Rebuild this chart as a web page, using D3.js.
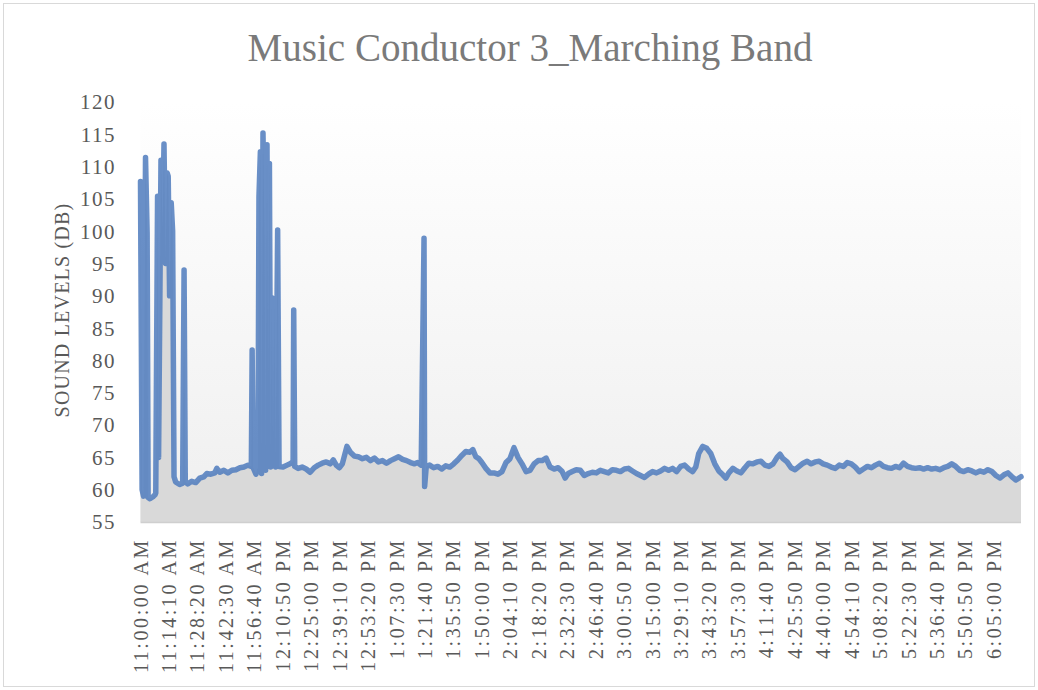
<!DOCTYPE html>
<html>
<head>
<meta charset="utf-8">
<script src="https://cdn.jsdelivr.net/npm/d3@7"></script>
<style>
  body { margin: 0; background: #fff; }
  svg { display: block; font-family: "Liberation Serif", "DejaVu Serif", serif; }
</style>
</head>
<body>
<svg></svg>
<script>
// Minutes after 11:00:00 AM for each reading
let minutes = [
  0, 0.8, 1.5, 2.5, 3.3, 3.8, 4.7, 6.2, 7.2, 7.6, 8.5, 9.0, 10.2, 11.0, 11.7, 12.5, 13.3, 13.8, 14.5, 15.3,
  16.0, 16.7, 17.5, 19.5, 21.0, 21.7, 22.3, 23.5, 25.5, 27.5, 29.5, 31.5, 33, 35, 37, 38, 39.5, 41.5, 43.5, 45.5,
  47.5, 49.5, 51.5, 53.5, 55.2, 55.6, 56.1, 57.5, 58.5, 59.0, 59.7, 60.3, 61.0, 61.7, 62.3, 63.0, 63.6, 64.2, 64.8, 65.4,
  66.0, 66.6, 67.3, 68.3, 69.0, 71, 73, 75, 76.0, 76.3, 76.8, 78.5, 80.5, 82.5, 84.5, 86.5, 88.5, 90.5, 92.5, 94.5,
  96, 97.5, 99, 100.5, 102.8, 104.5, 106.5, 108.5, 110.5, 112.5, 114.5, 116.5, 118.5, 120.5, 122.5, 124.5, 126.5, 128.5, 130.5, 132.5,
  134.5, 136.5, 138, 139.8, 141.2, 141.5, 142.3, 144, 146, 148, 150, 152, 154, 156, 158, 160, 162, 164, 165.5, 167,
  168.5, 170, 172, 174, 176, 178, 180, 182, 184, 186, 188, 190, 192, 194, 196, 198, 200, 202, 204, 206,
  208, 210, 211.5, 213, 215, 217, 219, 221, 223, 225, 227, 229, 231, 233, 235, 237, 239, 241, 243, 245,
  247, 249, 251, 253, 255, 257, 259, 261, 263, 265, 267, 269, 271, 273, 275, 276.5, 278, 280, 282, 284,
  286, 288, 290, 291.5, 293, 295, 297, 299, 301, 303, 305, 307, 309, 311, 313, 315, 317, 318.5, 320, 322,
  324, 326, 328, 330, 332, 334, 336, 338, 340, 342, 344, 346, 348, 350, 352, 354, 356, 358, 360, 362,
  364, 366, 368, 370, 372, 374, 376, 378, 380, 382, 384, 386, 388, 390, 392, 394, 396, 398, 400, 402,
  404, 406, 408, 410, 412, 414, 416, 418, 420, 422, 424, 426, 428, 430, 432, 434, 436, 438.5
];

// Sound level (dB) for each reading
let levels = [
  107.7, 60, 59, 111.4, 99.7, 58.8, 58.6, 58.9, 59.2, 59.5, 105.4, 65, 111, 100, 113.5, 95, 109, 108.5, 90, 104.4,
  100, 62, 61.2, 60.8, 61, 94, 61.2, 60.9, 61.3, 61.1, 61.8, 62, 62.5, 62.4, 62.6, 63.3, 62.7, 63.0, 62.6, 63.0,
  63.1, 63.4, 63.5, 63.8, 63.6, 81.6, 63.4, 62.4, 63.5, 105.4, 112.3, 62.5, 115.2, 100, 63, 113.4, 75, 110.5, 63.5, 89.7,
  64, 89.5, 63.5, 100.2, 63.6, 63.5, 63.8, 64.1, 64.4, 87.8, 63.6, 63.3, 63.5, 63.2, 62.7, 63.4, 63.8, 64.1, 64.3, 64.0,
  64.6, 63.8, 63.4, 64.0, 66.7, 65.8, 65.2, 65.1, 64.8, 65.0, 64.5, 64.9, 64.3, 64.5, 64.1, 64.5, 64.8, 65.1, 64.7, 64.5,
  64.2, 64.0, 64.2, 63.8, 98.9, 60.5, 63.6, 63.8, 63.4, 63.6, 63.2, 63.7, 63.5, 64.0, 64.6, 65.3, 65.9, 65.8, 66.2, 65.1,
  64.8, 64.2, 63.3, 62.6, 62.6, 62.4, 62.8, 64.2, 64.8, 66.5, 65.0, 64.0, 62.8, 63.0, 64.0, 64.5, 64.5, 64.9, 63.5, 63.2,
  63.4, 62.8, 61.8, 62.5, 62.8, 63.1, 63.0, 62.2, 62.5, 62.7, 62.6, 63.0, 62.8, 62.6, 63.1, 63.0, 62.8, 63.2, 63.3, 62.9,
  62.5, 62.2, 61.9, 62.4, 62.8, 62.6, 62.9, 63.3, 63.0, 63.3, 62.8, 63.6, 63.8, 63.2, 62.8, 63.5, 65.6, 66.7, 66.4, 65.6,
  64.0, 62.9, 62.3, 61.8, 62.6, 63.3, 62.9, 62.6, 63.4, 64.1, 64.0, 64.3, 64.4, 63.8, 63.6, 64.0, 65.0, 65.5, 64.8, 64.3,
  63.4, 63.1, 63.6, 64.1, 64.4, 64.0, 64.3, 64.4, 64.0, 63.8, 63.5, 63.3, 63.8, 63.6, 64.2, 64.0, 63.5, 62.8, 63.2, 63.6,
  63.4, 63.8, 64.1, 63.6, 63.4, 63.3, 63.6, 63.4, 64.1, 63.6, 63.4, 63.3, 63.4, 63.2, 63.4, 63.2, 63.3, 63.1, 63.4, 63.6,
  64.0, 63.6, 63.0, 62.8, 63.1, 62.9, 62.6, 62.9, 62.7, 63.1, 62.8, 62.2, 61.8, 62.3, 62.6, 62.0, 61.5, 62.0
];

// Category labels shown under the x axis (one every 14:10)
let timeLabels = [
  "11:00:00 AM", "11:14:10 AM", "11:28:20 AM", "11:42:30 AM", "11:56:40 AM", "12:10:50 PM",
  "12:25:00 PM", "12:39:10 PM", "12:53:20 PM", "1:07:30 PM", "1:21:40 PM", "1:35:50 PM",
  "1:50:00 PM", "2:04:10 PM", "2:18:20 PM", "2:32:30 PM", "2:46:40 PM", "3:00:50 PM",
  "3:15:00 PM", "3:29:10 PM", "3:43:20 PM", "3:57:30 PM", "4:11:40 PM", "4:25:50 PM",
  "4:40:00 PM", "4:54:10 PM", "5:08:20 PM", "5:22:30 PM", "5:36:40 PM", "5:50:50 PM", "6:05:00 PM"
];
let labelStep = 14 + 10 / 60;

let yTicks = [55, 60, 65, 70, 75, 80, 85, 90, 95, 100, 105, 110, 115, 120];

let width = 1038;
let height = 690;
let plotLeft = 140.5;
let plotRight = 1021;
let plotTop = 102;
let plotBottom = 522;

let svg = d3.select("svg").attr("width", width).attr("height", height);

let values = minutes.map((m, i) => [m, levels[i]]);

let xScale = d3.scaleLinear().domain([0, 438.5]).range([plotLeft, plotRight]);
let yScale = d3.scaleLinear().domain([55, 120]).range([plotBottom, plotTop]);

// chart border
svg.append("rect")
   .attr("x", 3.5).attr("y", 3.5)
   .attr("width", width - 7).attr("height", height - 7)
   .attr("fill", "#fff")
   .attr("stroke", "#d9d9d9");

// plot area gradient
let grad = svg.append("defs").append("linearGradient")
   .attr("id", "bg").attr("x1", 0).attr("y1", 0).attr("x2", 0).attr("y2", 1);
grad.append("stop").attr("offset", "0%").attr("stop-color", "#ffffff");
grad.append("stop").attr("offset", "100%").attr("stop-color", "#efefef");

svg.append("rect")
   .attr("x", plotLeft).attr("y", plotTop)
   .attr("width", plotRight - plotLeft).attr("height", plotBottom - plotTop)
   .attr("fill", "url(#bg)");

// title
svg.append("text")
   .attr("x", 530).attr("y", 61)
   .attr("text-anchor", "middle")
   .attr("font-size", 41)
   .attr("fill", "#7a7a7a")
   .attr("textLength", 565)
   .attr("lengthAdjust", "spacingAndGlyphs")
   .text("Music Conductor 3_Marching Band");

// area under the line
let area = d3.area()
   .x(d => xScale(d[0]))
   .y0(yScale(55))
   .y1(d => yScale(d[1]));

svg.append("path")
   .datum(values)
   .attr("d", area)
   .attr("fill", "#d9d9d9");

// bottom axis line
svg.append("line")
   .attr("x1", plotLeft).attr("x2", plotRight)
   .attr("y1", plotBottom + 0.5).attr("y2", plotBottom + 0.5)
   .attr("stroke", "#cfcfcf").attr("stroke-width", 1.5);

// the sound level line
let line = d3.line()
   .x(d => xScale(d[0]))
   .y(d => yScale(d[1]));

svg.append("path")
   .datum(values)
   .attr("d", line)
   .attr("fill", "none")
   .attr("stroke", "#4f7bbd")
   .attr("stroke-opacity", 0.85)
   .attr("stroke-width", 5.5)
   .attr("stroke-linejoin", "round")
   .attr("stroke-linecap", "round");

// y tick labels
svg.append("g")
   .selectAll("text")
   .data(yTicks)
   .enter()
   .append("text")
   .attr("x", 116)
   .attr("y", d => yScale(d))
   .attr("dy", "0.35em")
   .attr("text-anchor", "end")
   .attr("font-size", 21)
   .attr("letter-spacing", 1.5)
   .attr("fill", "#595959")
   .text(d => d);

// x tick labels, rotated
svg.append("g")
   .selectAll("text")
   .data(timeLabels)
   .enter()
   .append("text")
   .attr("transform", (d, i) => `translate(${xScale(i * labelStep)}, 538) rotate(-90)`)
   .attr("dy", "0.35em")
   .attr("text-anchor", "end")
   .attr("font-size", 20)
   .attr("letter-spacing", 2.6)
   .attr("fill", "#595959")
   .text(d => d);

// y axis title
svg.append("text")
   .attr("transform", "translate(62, 310) rotate(-90)")
   .attr("dy", "0.35em")
   .attr("text-anchor", "middle")
   .attr("font-size", 20)
   .attr("letter-spacing", 1.2)
   .attr("fill", "#595959")
   .text("SOUND LEVELS (DB)");
</script>
</body>
</html>
